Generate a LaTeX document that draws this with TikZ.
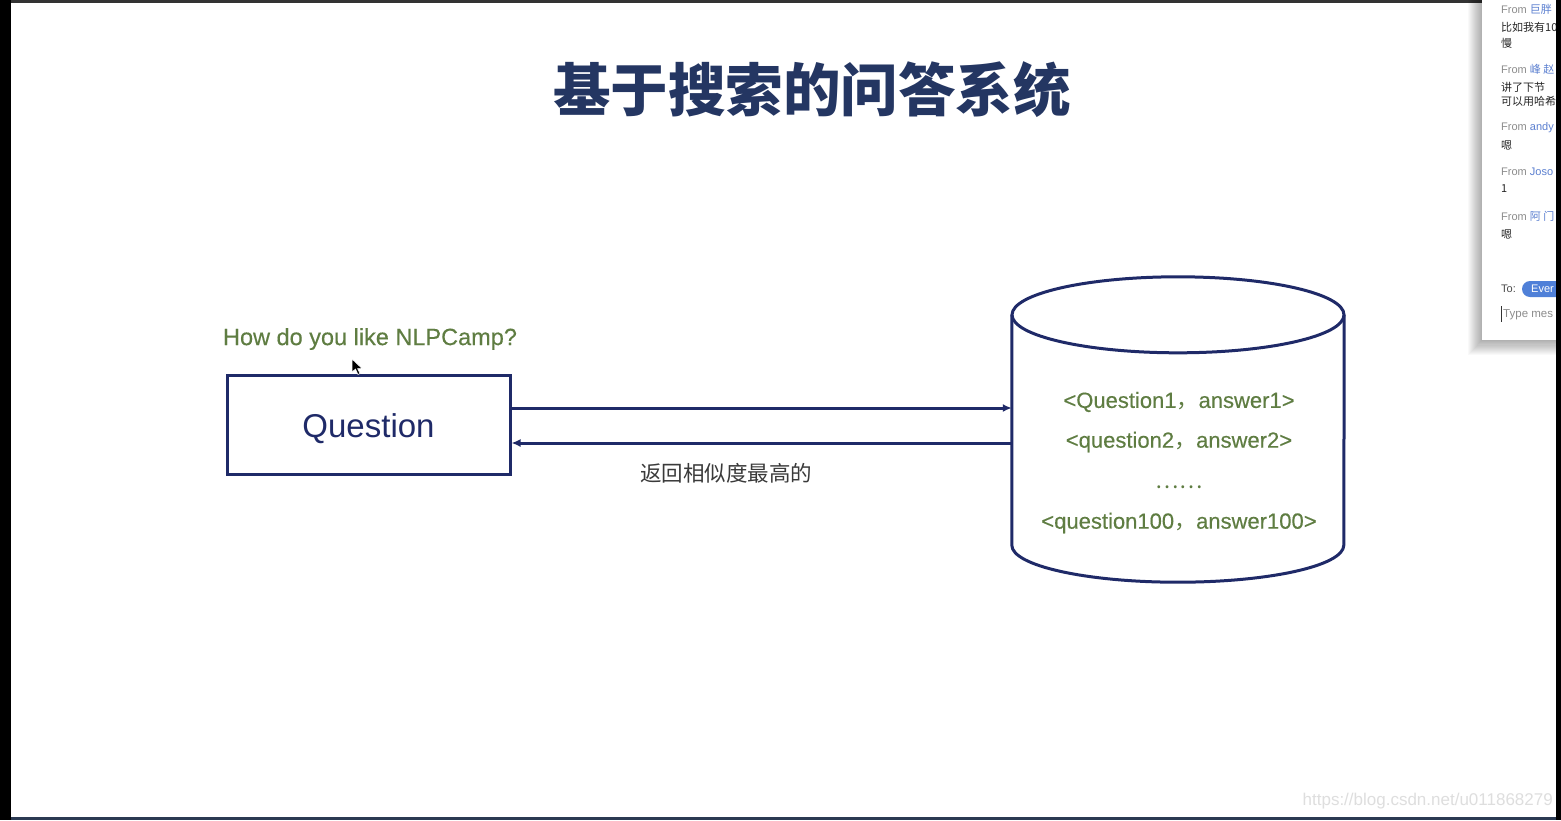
\documentclass[tikz,border=0pt]{standalone}
\usepackage{fontspec}
\setmainfont{Liberation Sans}
\newfontfamily\cjk{Noto Sans CJK SC}
\newfontfamily\semisans{Liberation Sans}[FakeBold=0.35]
\usetikzlibrary{arrows.meta,calc}
\definecolor{navy}{HTML}{1F2A68}
\definecolor{titlenavy}{HTML}{243662}
\definecolor{olive}{HTML}{5F7D42}
\definecolor{labelgray}{HTML}{3A3A3A}
\definecolor{fromgray}{HTML}{8C8C8C}
\definecolor{nameblue}{HTML}{5B7FD0}
\definecolor{pillblue}{HTML}{4F80D8}
\definecolor{bottomstrip}{HTML}{2B3A52}
\tikzset{
  arr/.style={draw=navy, line width=3pt, -{Latex[length=9pt,width=8pt]}},
  qbox/.style={draw=navy, line width=3pt, minimum width=283pt, minimum height=99pt, inner sep=0pt},
  dbtxt/.style={text=olive, font=\semisans\fontsize{22}{26}\selectfont, inner sep=0pt},
  chatfrom/.style={anchor=west, inner sep=0pt, text=fromgray, font=\fontsize{11}{13}\selectfont},
  chatmsg/.style={anchor=west, inner sep=0pt, text=black!85, font=\cjk\fontsize{11}{13}\selectfont},
}
\begin{document}
\begin{tikzpicture}[x=1pt,y=-1pt]
\useasboundingbox (0,0) rectangle (1561,820);
% screen background
\fill[black] (0,0) rectangle (1561,820);
\fill[white] (11,3) rectangle (1556,817);
\fill[black!80] (11,0) rectangle (1556,3);
\fill[bottomstrip] (11,817) rectangle (1556,820);

% title
\node (title) at (812,90) {\cjk\bfseries\color{titlenavy}\fontsize{57.5}{60}\selectfont 基于搜索的问答系统};

% question
\node[text=olive, font=\semisans\fontsize{23.5}{27}\selectfont, inner sep=0pt] (ask) at (370,339) {How do you like NLPCamp?};
\node[qbox, text=navy, font=\fontsize{33}{38}\selectfont, text depth=0pt] (q) at (368.5,424.5) {\raisebox{-3pt}{Question}};

% database cylinder (body walls from y=315 to y=545)
\node[minimum width=332pt, minimum height=230pt, inner sep=0pt] (db) at (1178,430) {};
\draw[navy, line width=3pt, line join=round] (db.north west) -- (db.south west)
  arc[start angle=180, end angle=0, x radius=166, y radius=37] -- (db.north east);
\draw[navy, line width=3pt] (db.north) ellipse[x radius=166, y radius=38];

\node[dbtxt] (r1) at (1179,402) {<Question1{\cjk ，}answer1>};
\node[dbtxt] (r2) at (1179,442) {<question2{\cjk ，}answer2>};
\node[dbtxt, font=\cjk\fontsize{22}{26}\selectfont] (r3) at (1179,487) {……};
\node[dbtxt] (r4) at (1179,523) {<question100{\cjk ，}answer100>};

% connectors
\draw[arr] ([yshift=16.5pt]q.east) -- ([yshift=16.5pt]q.east -| db.west);
\draw[arr] ([yshift=-18.5pt]q.east -| db.west) -- ([yshift=-18.5pt]q.east);
\node[text=labelgray, font=\cjk\fontsize{21.5}{24}\selectfont, inner sep=0pt] (ret) at (726,473) {返回相似度最高的};

% mouse cursor
\filldraw[fill=black, draw=white, line width=0.5pt] (352,359) -- (352,372) -- (355.5,369) -- (358,374.5) -- (360,373.5) -- (357.5,368.5) -- (362,368.5) -- cycle;

% watermark
\node[anchor=east, text=black!13, font=\fontsize{17}{20}\selectfont, inner sep=0pt] (wm) at (1553,801) {https://blog.csdn.net/u011868279};

% chat panel
\begin{scope}
\clip (1460,0) rectangle (1556,370);
\foreach \i in {1,...,14}{
  \fill[black, opacity=0.022] (1482-\i,0) rectangle (1570,340+\i*1.1);
}
\fill[white] (1482,0) rectangle (1570,340);
\node[chatfrom] (f1) at (1501,9) {From {\cjk\color{nameblue}巨胖}};
\node[chatmsg] (m1) at (1501,27) {比如我有10};
\node[chatmsg] (m1b) at (1501,43) {慢};
\node[chatfrom] (f2) at (1501,69) {From {\cjk\color{nameblue}峰 赵}};
\node[chatmsg] (m2) at (1501,87) {讲了下节};
\node[chatmsg] (m2b) at (1501,101) {可以用哈希};
\node[chatfrom] (f3) at (1501,128) {From {\color{nameblue}andy}};
\node[chatmsg] (m3) at (1501,145) {嗯};
\node[chatfrom] (f4) at (1501,172) {From {\color{nameblue}Joso}};
\node[chatmsg] (m4) at (1501,189) {1};
\node[chatfrom] (f5) at (1501,216) {From {\cjk\color{nameblue}阿 门}};
\node[chatmsg] (m5) at (1501,234) {嗯};
\node[chatfrom, text=black!70] (to) at (1501,289) {To:};
\fill[pillblue] (1530,281) -- (1570,281) -- (1570,297) -- (1530,297) arc[start angle=90, end angle=270, radius=8] -- cycle;
\node[anchor=west, inner sep=0pt, text=white, font=\fontsize{11}{13}\selectfont] (pill) at (1531,289) {Ever};
\draw[black!80, line width=0.8pt] (1501.5,306) -- (1501.5,322);
\node[anchor=west, inner sep=0pt, text=black!45, font=\fontsize{11.5}{13}\selectfont] (typ) at (1503,315) {Type mes};
\end{scope}
\fill[black] (1556,0) rectangle (1561,820);
\end{tikzpicture}
\end{document}
